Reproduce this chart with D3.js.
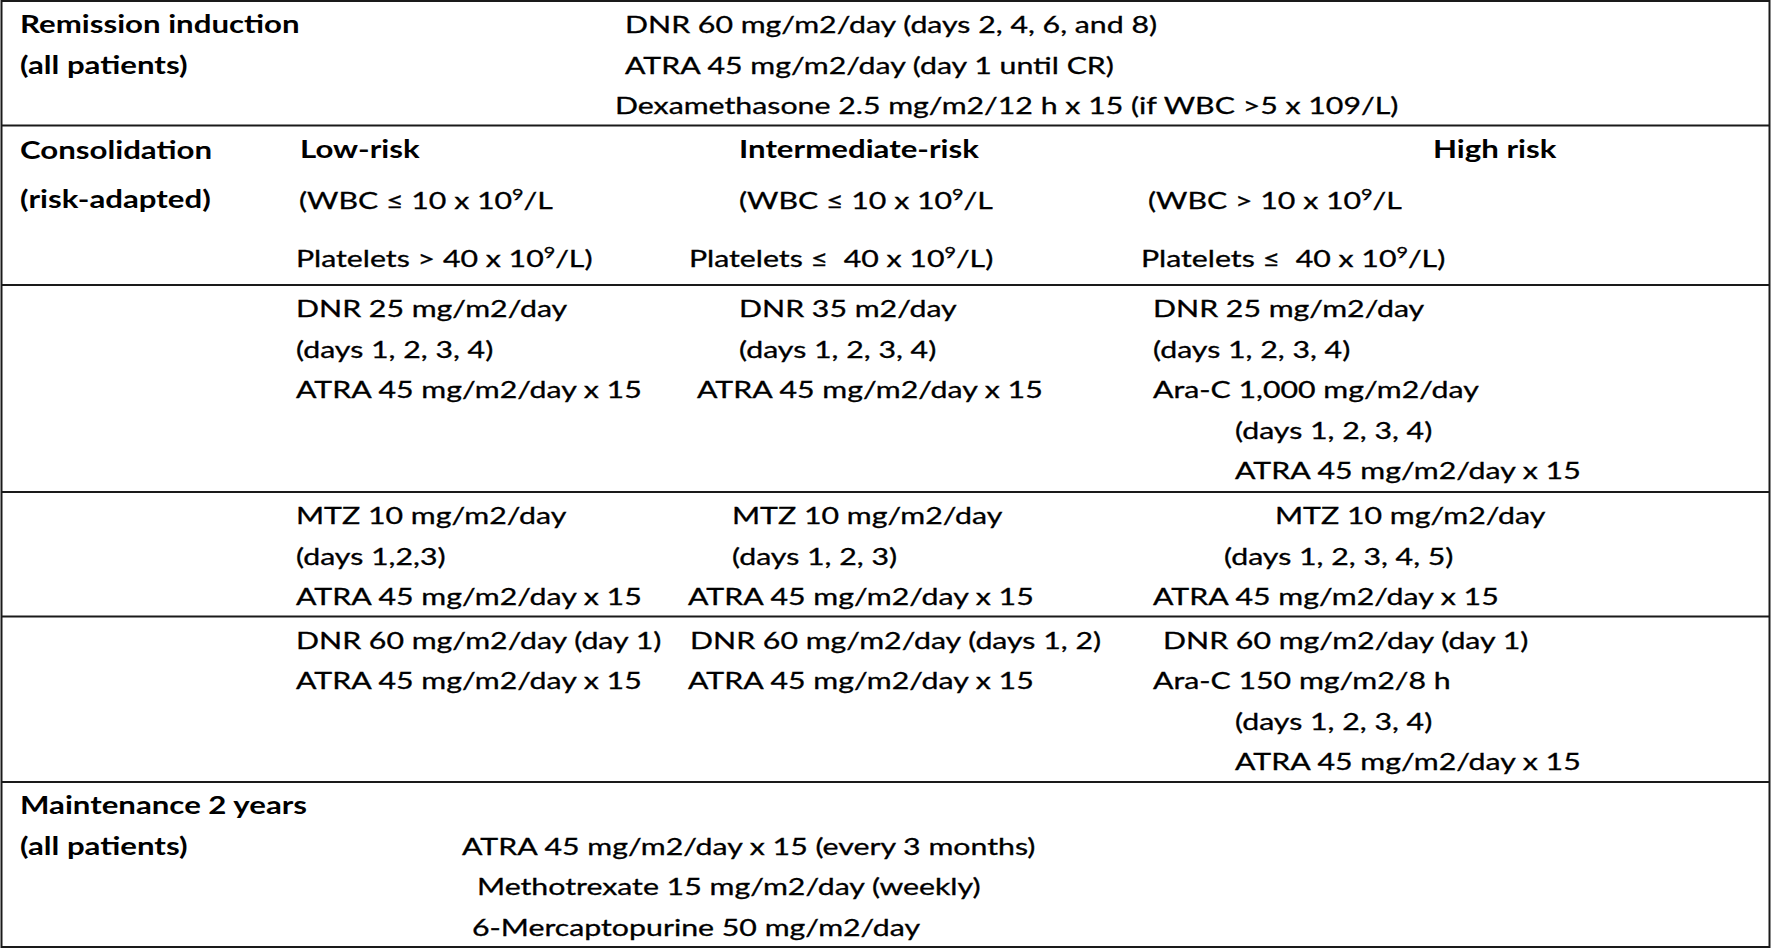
<!DOCTYPE html>
<html>
<head>
<meta charset="utf-8">
<script src="https://d3js.org/d3.v7.min.js"></script>
<style>
  body { margin: 0; background: #fff; }
  svg text { font-family: Lato, "Open Sans", sans-serif; fill: #000; white-space: pre; }
  svg text.reg { stroke: #000; stroke-width: 0.3px; }
</style>
</head>
<body>
<div id="chart_box"></div>
<script>
// ---- table content ----
var stageLabels = [
  ["Remission induction", "(all patients)"],
  ["Consolidation", "(risk-adapted)"],
  ["Maintenance 2 years", "(all patients)"]
];
var inductionLines = [
  "DNR 60 mg/m2/day (days 2, 4, 6, and 8)",
  "ATRA 45 mg/m2/day (day 1 until CR)",
  "Dexamethasone 2.5 mg/m2/12 h x 15 (if WBC >5 x 109/L)"
];
var riskGroups = ["Low-risk", "Intermediate-risk", "High risk"];
// ^9 marks a superscript
var riskCriteria = [
  ["(WBC \u2264 10 x 10^9/L", "Platelets > 40 x 10^9/L)"],
  ["(WBC \u2264 10 x 10^9/L", "Platelets \u2264  40 x 10^9/L)"],
  ["(WBC > 10 x 10^9/L", "Platelets \u2264  40 x 10^9/L)"]
];
var course1 = [
  ["DNR 25 mg/m2/day", "(days 1, 2, 3, 4)", "ATRA 45 mg/m2/day x 15"],
  ["DNR 35 m2/day", "(days 1, 2, 3, 4)", "ATRA 45 mg/m2/day x 15"],
  ["DNR 25 mg/m2/day", "(days 1, 2, 3, 4)", "Ara-C 1,000 mg/m2/day", "(days 1, 2, 3, 4)", "ATRA 45 mg/m2/day x 15"]
];
var course2 = [
  ["MTZ 10 mg/m2/day", "(days 1,2,3)", "ATRA 45 mg/m2/day x 15"],
  ["MTZ 10 mg/m2/day", "(days 1, 2, 3)", "ATRA 45 mg/m2/day x 15"],
  ["MTZ 10 mg/m2/day", "(days 1, 2, 3, 4, 5)", "ATRA 45 mg/m2/day x 15"]
];
var course3 = [
  ["DNR 60 mg/m2/day (day 1)", "ATRA 45 mg/m2/day x 15"],
  ["DNR 60 mg/m2/day (days 1, 2)", "ATRA 45 mg/m2/day x 15"],
  ["DNR 60 mg/m2/day (day 1)", "Ara-C 150 mg/m2/8 h", "(days 1, 2, 3, 4)", "ATRA 45 mg/m2/day x 15"]
];
var maintenanceLines = [
  "ATRA 45 mg/m2/day x 15 (every 3 months)",
  "Methotrexate 15 mg/m2/day (weekly)",
  "6-Mercaptopurine 50 mg/m2/day"
];

// ---- layout ----
var width = 1772, height = 949;
var rowEdges = [1, 125.5, 285, 492, 616.5, 782, 947];
var labelX = 20;
var colStart = d3.scaleOrdinal().domain(riskGroups).range([296, 688, 1153]);
// per-line indents inside each column (the original used spaces to place them)
var headerIndent = [4, 51, 280];
var criteriaIndent = [[3, 0], [51, 1], [-5, -12]];
var course1Indent = [[0, 0, 0], [51, 51, 9], [0, 0, 0, 82, 82]];
var course2Indent = [[0, 0, 0], [44, 44, 0], [122, 71, 0]];
var course3Indent = [[0, 0], [2, 0], [10, 0, 82, 82]];
var inductionX = [625, 625, 615];
var maintenanceX = [462, 477, 472];
// baseline of n-th line inside a row
var lineY = d3.scaleLinear().domain([0, 1]).range([32, 72.5]);

var regSize = 23, boldSize = 25;

var svg = d3.select("#chart_box").append("svg")
  .attr("width", width).attr("height", height);

// the source picture is stretched sideways, measure and match it
function natural(str, bold) {
  var t = svg.append("text")
    .style("font-size", (bold ? boldSize : regSize) + "px")
    .style("font-weight", bold ? 700 : 400)
    .text(str);
  var w = t.node().getComputedTextLength();
  t.remove();
  return w;
}
var kxReg = 346 / natural("ATRA 45 mg/m2/day x 15", false);
var kxBold = 240 / natural("Intermediate-risk", true);

function addText(str, x, y, bold) {
  var t = svg.append("text")
    .attr("class", bold ? "bold" : "reg")
    .attr("transform", "translate(" + x + "," + y + ") scale(" + (bold ? kxBold : kxReg) + ",1)")
    .style("font-size", (bold ? boldSize : regSize) + "px")
    .style("font-weight", bold ? 700 : 400);
  var parts = str.split(/\^(\d)/);
  var raised = false;
  parts.forEach(function (p, i) {
    if (i % 2 === 1) {
      t.append("tspan").attr("dy", -9).style("font-size", "15px").text(p);
      raised = true;
    } else if (p.length) {
      t.append("tspan").attr("dy", raised ? 9 : 0).text(p);
      raised = false;
    }
  });
}

// borders
svg.append("rect")
  .attr("x", 1.5).attr("y", rowEdges[0])
  .attr("width", 1768).attr("height", rowEdges[6] - rowEdges[0])
  .attr("fill", "none").attr("stroke", "#1a1a1a").attr("stroke-width", 2);
svg.selectAll("line.row")
  .data(rowEdges.slice(1, -1))
  .enter().append("line")
  .attr("class", "row")
  .attr("x1", 1.5).attr("x2", 1769.5)
  .attr("y1", function (d) { return d; })
  .attr("y2", function (d) { return d; })
  .attr("stroke", "#1a1a1a").attr("stroke-width", 2);

// row 1: induction
stageLabels[0].forEach(function (s, i) { addText(s, labelX, rowEdges[0] + lineY(i), true); });
inductionLines.forEach(function (s, i) { addText(s, inductionX[i], rowEdges[0] + lineY(i), false); });

// row 2: consolidation header
var top2 = rowEdges[1];
addText(stageLabels[1][0], labelX, top2 + lineY(0) + 1.5, true);
addText(stageLabels[1][1], labelX, top2 + lineY(1.24), true);
riskGroups.forEach(function (g, c) {
  addText(g, colStart(g) + headerIndent[c], top2 + lineY(0), true);
  addText(riskCriteria[c][0], colStart(g) + criteriaIndent[c][0], top2 + lineY(1.27), false);
  addText(riskCriteria[c][1], colStart(g) + criteriaIndent[c][1], top2 + lineY(2.7), false);
});

// rows 3-5: consolidation courses
[[course1, course1Indent, rowEdges[2]],
 [course2, course2Indent, rowEdges[3]],
 [course3, course3Indent, rowEdges[4]]].forEach(function (c) {
  riskGroups.forEach(function (g, k) {
    c[0][k].forEach(function (s, i) {
      addText(s, colStart(g) + c[1][k][i], c[2] + lineY(i), false);
    });
  });
});

// row 6: maintenance
stageLabels[2].forEach(function (s, i) { addText(s, labelX, rowEdges[5] + lineY(i), true); });
maintenanceLines.forEach(function (s, i) { addText(s, maintenanceX[i], rowEdges[5] + lineY(i + 1), false); });
</script>
</body>
</html>
